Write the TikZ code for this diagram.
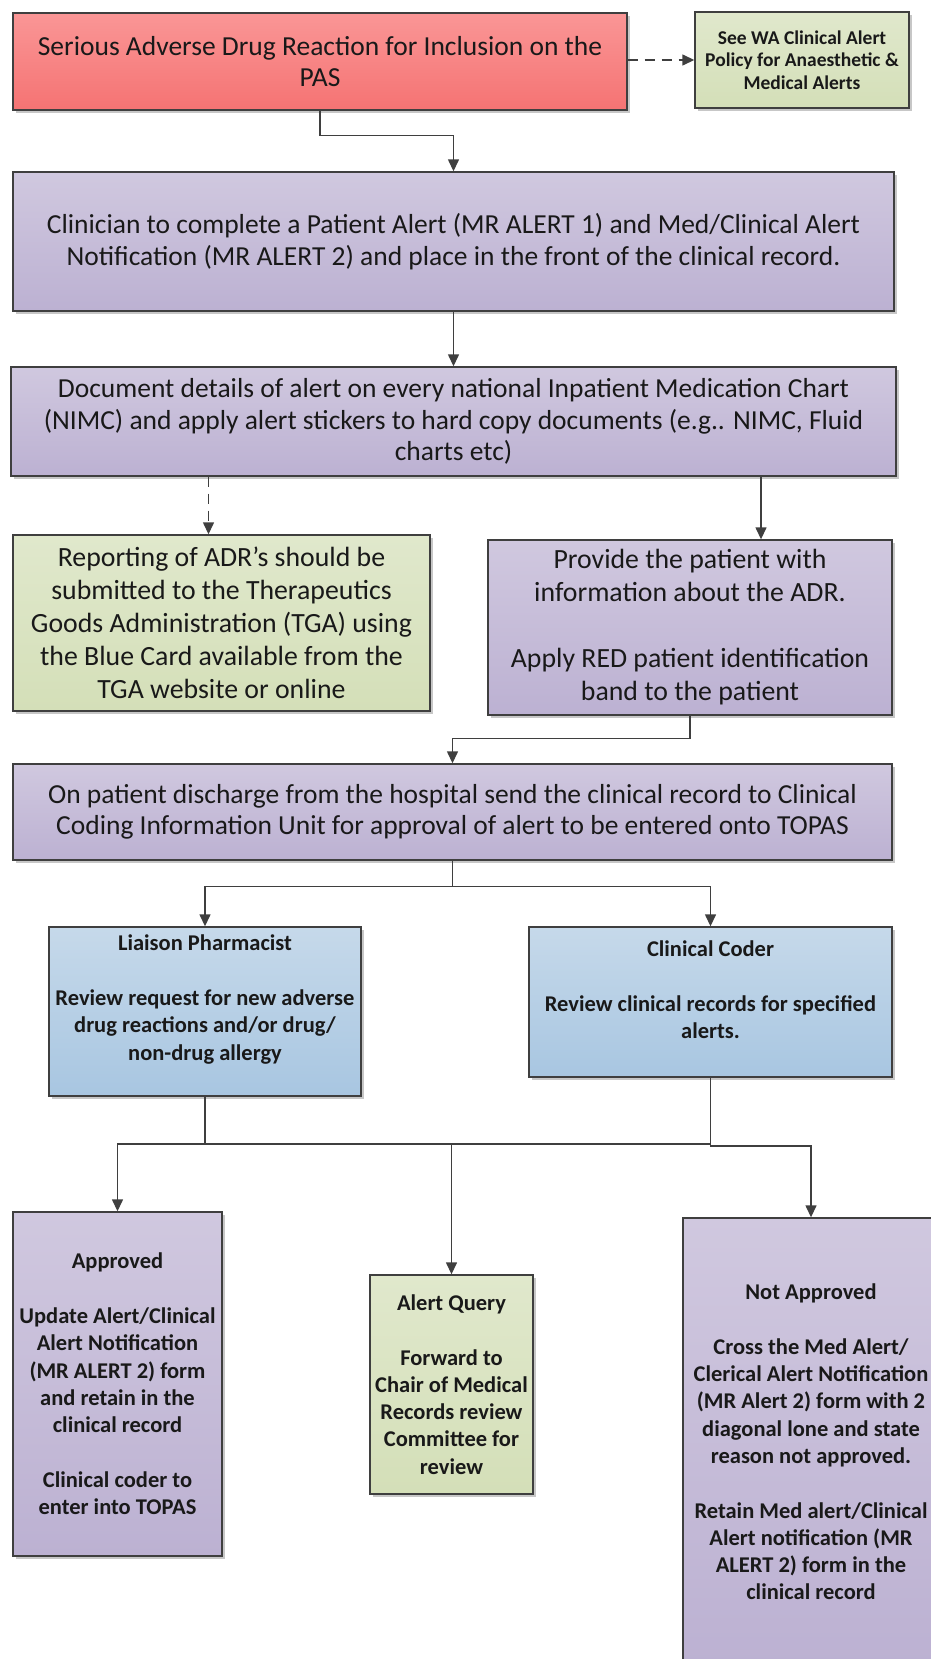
\documentclass[tikz,border=0pt]{standalone}
\usepackage{fontspec}
\setmainfont{Carlito}
\usetikzlibrary{arrows.meta,shadows,calc}

\definecolor{edge}{HTML}{3F3F3F}
\definecolor{redT}{RGB}{250,150,150}
\definecolor{redB}{RGB}{245,115,115}
\definecolor{purT}{RGB}{208,200,223}
\definecolor{purB}{RGB}{188,177,210}
\definecolor{bluT}{RGB}{198,217,234}
\definecolor{bluB}{RGB}{168,198,225}
\definecolor{grnT}{RGB}{224,232,204}
\definecolor{grnB}{RGB}{212,223,184}
\definecolor{txt}{RGB}{25,25,25}

\tikzset{
  box/.style={draw=edge, line width=1.4pt, rectangle, inner sep=0pt, align=center, text=txt,
    drop shadow={shadow xshift=3pt,shadow yshift=-3pt,fill=black,opacity=0.22}},
  redbox/.style={box, top color=redT, bottom color=redB},
  purbox/.style={box, top color=purT, bottom color=purB},
  blubox/.style={box, top color=bluT, bottom color=bluB},
  grnbox/.style={box, top color=grnT, bottom color=grnB},
  big/.style={font=\fontsize{27.5}{31.5}\selectfont},
  bigger/.style={font=\fontsize{27.8}{33}\selectfont},
  small/.style={font=\bfseries\fontsize{22.5}{27.3}\selectfont},
  tiny/.style={font=\bfseries\fontsize{19.5}{22.5}\selectfont},
  lbl/.style={align=center, text=txt, inner sep=0pt},
  conn/.style={draw=edge, line width=1.4pt},
  arr/.style={conn, -{Triangle[length=12pt,width=11pt]}},
  dasharr/.style={arr, dash pattern=on 10pt off 7pt},
}

\begin{document}
\begin{tikzpicture}[x=1pt,y=-1pt]
\useasboundingbox (0,0) rectangle (931,1659);
\clip (0,0) rectangle (931,1659);

\node[redbox, big, minimum width=614pt, minimum height=97pt] (red) at (320,61.5)
  {Serious Adverse Drug Reaction for Inclusion on the\\PAS};
\node[grnbox, tiny, minimum width=214pt, minimum height=96pt] (see) at (802,60)
  {See WA Clinical Alert\\Policy for Anaesthetic \&\\Medical Alerts};
\node[purbox, big, minimum width=881pt, minimum height=139pt] (clin) at (453.5,241.5)
  {Clinician to complete a Patient Alert (MR ALERT 1) and Med/Clinical Alert\\Notification (MR ALERT 2) and place in the front of the clinical record.};
\node[purbox, big, minimum width=885pt, minimum height=109pt] (doc) at (453.5,421.5)
  {Document details of alert on every national Inpatient Medication Chart\\(NIMC) and apply alert stickers to hard copy documents (e.g.. NIMC, Fluid\\charts etc)};
\node[grnbox, bigger, minimum width=417pt, minimum height=176pt] (rep) at (221.5,623)
  {Reporting of ADR’s should be\\submitted to the Therapeutics\\Goods Administration (TGA) using\\the Blue Card available from the\\TGA website or online};
\node[purbox, bigger, minimum width=404pt, minimum height=175pt] (prov) at (690,627.5)
  {Provide the patient with\\information about the ADR.\\[33pt]Apply RED patient identification\\band to the patient};
\node[purbox, big, minimum width=879pt, minimum height=96pt] (disch) at (452.5,812)
  {On patient discharge from the hospital send the clinical record to Clinical\\Coding Information Unit for approval of alert to be entered onto TOPAS};

\node[blubox, minimum width=312pt, minimum height=169pt] (lp) at (205,1011.5) {};
\node[lbl, small, yshift=12pt] (lpt) at (lp.center)
  {Liaison Pharmacist\\[27.3pt]Review request for new adverse\\drug reactions and/or drug/\\non-drug allergy};
\node[blubox, minimum width=363pt, minimum height=150pt] (cc) at (710.5,1002) {};
\node[lbl, small, yshift=12pt] (cct) at (cc.center)
  {Clinical Coder\\[27.3pt]Review clinical records for specified\\alerts.};

\node[purbox, small, minimum width=209pt, minimum height=344pt] (ap) at (117.5,1384)
  {Approved\\[27.3pt]Update Alert/Clinical\\Alert Notification\\(MR ALERT 2) form\\and retain in the\\clinical record\\[27.3pt]Clinical coder to\\enter into TOPAS};
\node[grnbox, small, minimum width=163pt, minimum height=219pt] (aq) at (451.5,1384.5)
  {Alert Query\\[27.3pt]Forward to\\Chair of Medical\\Records review\\Committee for\\review};
\node[purbox, small, minimum width=256pt, minimum height=448pt] (na) at (811,1442)
  {Not Approved\\[27.3pt]Cross the Med Alert/\\Clerical Alert Notification\\(MR Alert 2) form with 2\\diagonal lone and state\\reason not approved.\\[27.3pt]Retain Med alert/Clinical\\Alert notification (MR\\ALERT 2) form in the\\clinical record};

% connectors
\draw[dasharr] (red.east |- see.west) -- (see.west);
\draw[arr] (red.south) -- ++(0,25) -| (clin.north);
\draw[arr] (clin.south) -- (doc.north);
\draw[dasharr] ([xshift=-13pt]rep.north |- doc.south) -- ([xshift=-13pt]rep.north);
\draw[arr] ([xshift=71pt]prov.north |- doc.south) -- ([xshift=71pt]prov.north);
\draw[arr] (prov.south) -- ++(0,23) -| (disch.north);
\draw[arr] (disch.south) -- ++(0,26) coordinate (split) -| (lp.north);
\draw[arr] (split) -| (cc.north);

\coordinate (bus) at (0,1144);
\draw[conn] (lp.south) -- (lp.south |- bus);
\draw[conn] (cc.south) -- (cc.south |- bus);
\draw[arr] (cc.south |- bus) -| (ap.north);
\draw[arr] (aq.north |- bus) -- (aq.north);
\draw[arr] (cc.south |- bus) -- ++(0,2) -| (na.north);
\end{tikzpicture}
\end{document}
